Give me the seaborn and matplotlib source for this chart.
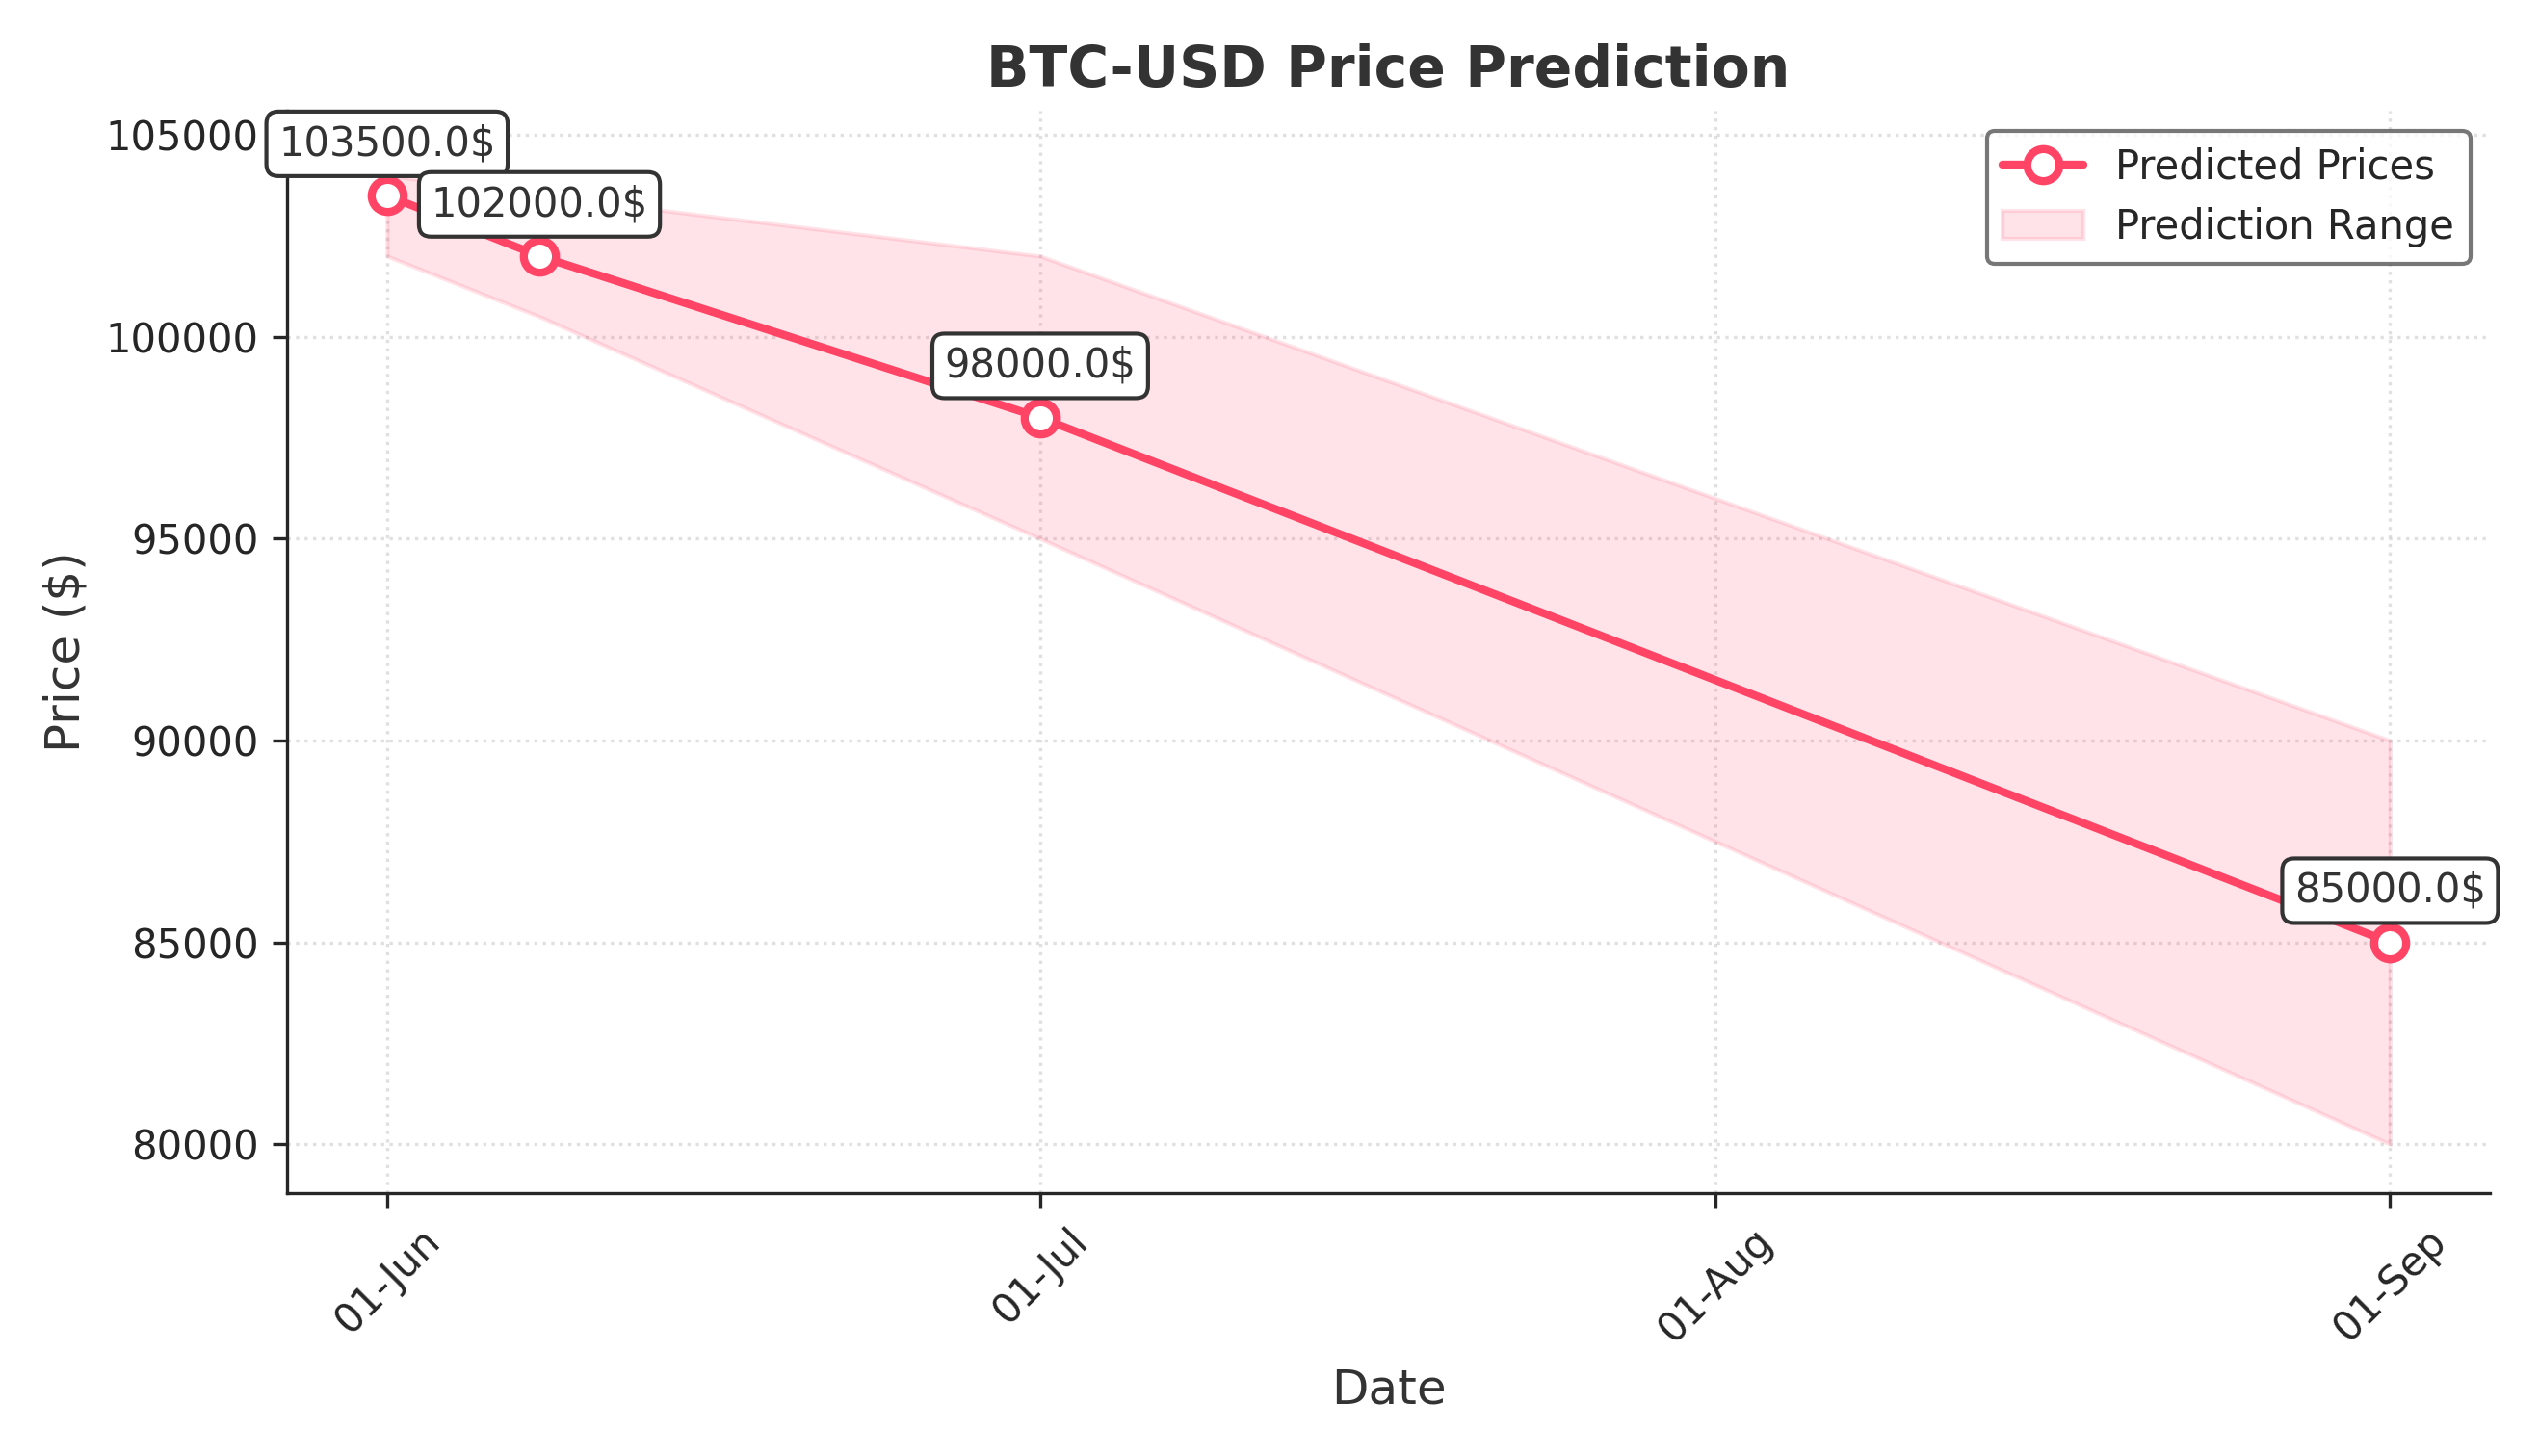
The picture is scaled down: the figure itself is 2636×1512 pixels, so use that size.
import matplotlib
matplotlib.use("Agg")
import matplotlib.pyplot as plt
import matplotlib.dates as mdates
import seaborn as sns
import pandas as pd

dates = pd.to_datetime(["2025-06-01", "2025-06-08", "2025-07-01", "2025-09-01"])
predicted = [103500, 102000, 98000, 85000]
upper = [104000, 103500, 102000, 90000]
lower = [102000, 100500, 95000, 80000]

sns.set_style("ticks")
plt.rcParams['font.family'] = ['DejaVu Sans']
color = "#ff4466"

fig, ax = plt.subplots(figsize=(8.79, 5.04), dpi=300)
df = pd.DataFrame({"Date": dates, "Price": predicted})
sns.lineplot(data=df, x="Date", y="Price", ax=ax, color=color, linewidth=2,
             marker="o", markersize=8, markerfacecolor="white",
             markeredgecolor=color, markeredgewidth=2, label="Predicted Prices")
ax.fill_between(dates, lower, upper, color=color, alpha=0.15, label="Prediction Range")

for d, p in zip(dates, predicted):
    ax.annotate(f"{float(p)}$", (d, p), textcoords="offset points", xytext=(0, 10),
                ha="center", fontsize=10, color="#333333",
                bbox=dict(boxstyle="round,pad=0.3", fc="white", ec="#333333", lw=1))

ax.xaxis.set_major_locator(mdates.MonthLocator())
ax.xaxis.set_major_formatter(mdates.DateFormatter("%d-%b"))
plt.setp(ax.get_xticklabels(), rotation=45)
ax.set_title("BTC-USD Price Prediction", fontsize=14, fontweight="bold", color="#333333")
ax.set_xlabel("Date", fontsize=12, color="#333333")
ax.set_ylabel("Price ($)", fontsize=12, color="#333333")
ax.grid(True, linestyle=":", alpha=0.6)
sns.despine(ax=ax)
ax.set_ylim(78800, 105600)
leg = ax.legend(loc="upper right", frameon=True, edgecolor="#555555")
fig.tight_layout()
fig.savefig("out.png", dpi=300)
